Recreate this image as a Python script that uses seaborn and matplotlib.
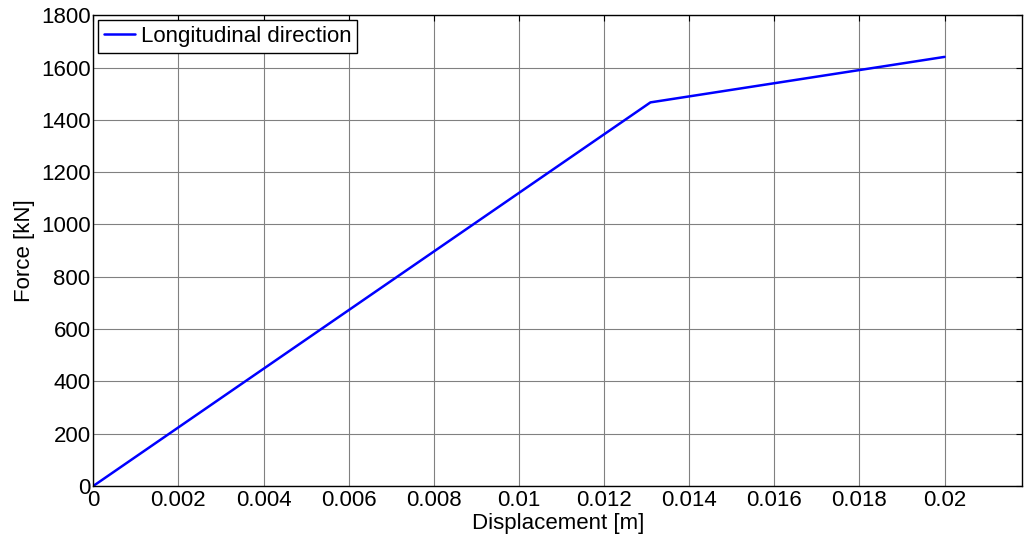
import numpy as np
import pandas as pd
import matplotlib
matplotlib.use("Agg")
import matplotlib.pyplot as plt
import seaborn as sns

# data
displacement = [0.0, 0.01309, 0.02]
force = [0.0, 1467.0, 1641.0]

x_ticks = [0, 0.002, 0.004, 0.006, 0.008, 0.01, 0.012, 0.014, 0.016, 0.018, 0.02]
x_tick_labels = ["0", "0.002", "0.004", "0.006", "0.008", "0.01", "0.012",
                 "0.014", "0.016", "0.018", "0.02"]
y_ticks = [0, 200, 400, 600, 800, 1000, 1200, 1400, 1600, 1800]

sns.set_style("white")
plt.rcParams['font.family'] = ['Liberation Sans', 'DejaVu Sans']
plt.rcParams['text.color'] = 'black'
plt.rcParams['axes.labelcolor'] = 'black'

df = pd.DataFrame({'Displacement': displacement, 'Force': force})

fig = plt.figure(figsize=(10.24, 5.41), dpi=100)
ax = fig.add_axes([0.0911, 0.1017, 0.9074, 0.870])

sns.lineplot(data=df, x='Displacement', y='Force', sort=False, color='#0000ff',
             linewidth=1.8, label='Longitudinal direction', ax=ax)

ax.set_xlim(0, 0.02183)
ax.set_ylim(0, 1800)
ax.set_xticks(x_ticks)
ax.set_xticklabels(x_tick_labels)
ax.set_yticks(y_ticks)
ax.grid(True, color='#808080', linewidth=0.8)
ax.tick_params(direction='in', length=4, width=0.8, top=True, right=True,
               labelsize=16, colors='black')
ax.tick_params(axis='x', pad=3)
ax.tick_params(axis='y', pad=2)
for s in ax.spines.values():
    s.set_color('black')
    s.set_linewidth(1.0)

ax.set_xlabel('Displacement [m]', fontsize=16, labelpad=1)
ax.set_ylabel('Force [kN]', fontsize=16, labelpad=4)

leg = ax.legend(loc='upper left', fontsize=16, frameon=True, fancybox=False,
                handlelength=1.4, handletextpad=0.25, borderpad=0.28,
                borderaxespad=0.2, framealpha=1)
leg.get_frame().set_edgecolor('black')
leg.get_frame().set_linewidth(1.0)

fig.savefig('out.png', dpi=100)
